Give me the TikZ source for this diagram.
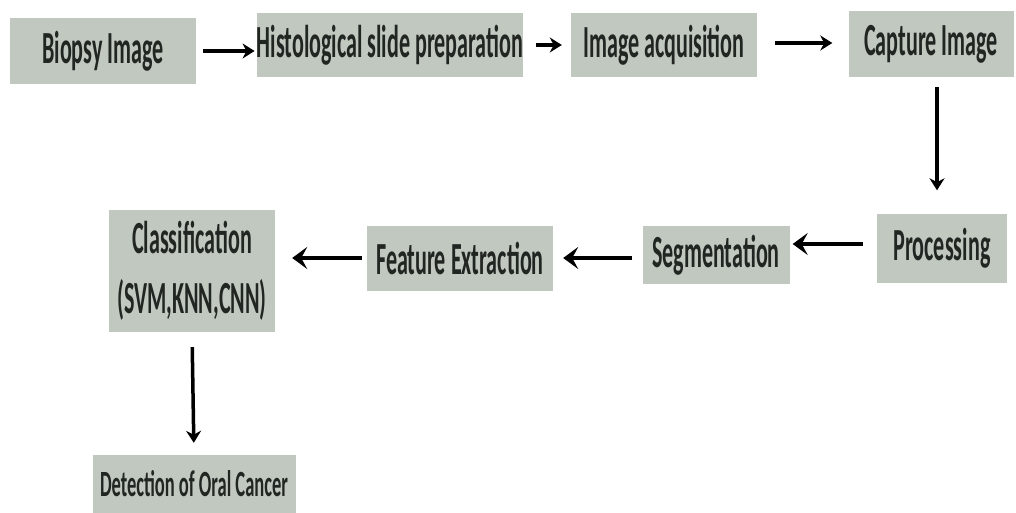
\documentclass[tikz,border=0pt]{standalone}
\usepackage{fontspec}
\newfontfamily\boxfont{Carlito}[FakeStretch=0.48]
\newfontfamily\resultfont{Carlito}[FakeStretch=0.5]
\usepackage{xcolor}
\usepackage{tikz}
\usetikzlibrary{arrows.meta,positioning,calc}
\definecolor{boxfill}{RGB}{192,200,191}
\definecolor{boxtext}{RGB}{34,38,34}

\begin{document}
\begin{tikzpicture}[
  x=1pt, y=-1pt,
  stage/.style={rectangle, fill=boxfill, inner sep=0pt, text=boxtext,
                font=\boxfont\bfseries\fontsize{46}{60}\selectfont, align=center},
  flow/.style={line width=3.5pt, -{Stealth[length=12pt,width=15pt]}},
  back/.style={line width=4.5pt, -{Stealth[length=15pt,width=22pt,inset=6pt]}},
  >=Stealth
]
\useasboundingbox (0,0) rectangle (1016,513);

% Stages, first row
\node[stage, minimum width=186pt, minimum height=66pt] (bio)   at (103,51)  {Biopsy Image};
\node[stage, minimum width=251pt, minimum height=64pt] (histo) at (390,45)  {Histological slide preparation};
\node[stage, minimum width=186pt, minimum height=64pt] (acq)   at (664,45)  {Image acquisition};
\node[stage, minimum width=165pt, minimum height=66pt] (capt)  at (931,44)  {Capture Image};

% Stages, second row
\node[stage, minimum width=130pt, minimum height=69pt] (proc)  at (942,248) {Processing};
\node[stage, minimum width=147pt, minimum height=58pt] (seg)   at (716,255) {Segmentation};
\node[stage, minimum width=186pt, minimum height=65pt] (feat)  at (460,258) {Feature Extraction};
\node[stage, minimum width=166pt, minimum height=122pt] (cls)  at (192,271) {Classification\\(SVM,KNN,CNN)};

% Result
\node[stage, minimum width=203pt, minimum height=58pt,
      font=\resultfont\bfseries\fontsize{37}{40}\selectfont] (det) at (194,484) {Detection of Oral Cancer};

% Forward arrows
\draw[flow, shorten <=7pt, shorten >=2pt] (bio.east) -- (bio.east -| histo.west);
\draw[flow, shorten <=13pt, shorten >=9pt] (histo.east) -- (histo.east -| acq.west);
\draw[flow, shorten <=18pt, shorten >=16pt] ([yshift=2pt]acq.east) -- ([yshift=2pt]acq.east -| capt.west);
\draw[flow, shorten <=10pt, shorten >=23pt] ([xshift=6pt]capt.south) -- ([xshift=6pt]capt.south |- proc.north);

% Backward arrows
\draw[back, shorten <=14pt, shorten >=3pt] ([yshift=4pt]proc.west) -- ([yshift=4pt]proc.west -| seg.east);
\draw[back, shorten <=10pt, shorten >=10pt] ([yshift=-3pt]seg.west) -- ([yshift=-3pt]seg.west -| feat.east);
\draw[back, shorten <=5pt, shorten >=17pt] (feat.west) -- (feat.west -| cls.east);
\draw[flow, shorten <=15pt, shorten >=12pt] (cls.south) -- (det.north);
\end{tikzpicture}
\end{document}
